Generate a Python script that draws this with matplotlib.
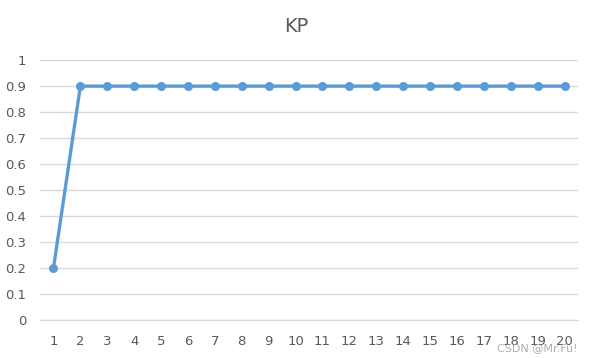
import numpy as np
import matplotlib.pyplot as plt

# data
categories = [str(i) for i in range(1, 21)]
kp_values = [0.2] + [0.9] * 19
y_ticks = [0, 0.1, 0.2, 0.3, 0.4, 0.5, 0.6, 0.7, 0.8, 0.9, 1]
y_labels = ["0", "0.1", "0.2", "0.3", "0.4", "0.5", "0.6", "0.7", "0.8", "0.9", "1"]

fig = plt.figure(figsize=(5.92, 3.58), dpi=100)
ax = fig.add_axes([0.0676, 0.106, 0.9088, 0.726])

x = np.arange(1, len(categories) + 1)
ax.plot(x, kp_values, color="#5B9BD5", linewidth=2.4, marker="o",
        markersize=5.5, zorder=3, solid_capstyle="round")

ax.set_xlim(0.5, len(categories) + 0.5)
ax.set_ylim(0, 1)
ax.set_xticks(x)
ax.set_xticklabels(categories)
ax.set_yticks(y_ticks)
ax.set_yticklabels(y_labels)

ax.grid(axis="y", color="#D9D9D9", linewidth=1)
ax.set_axisbelow(True)
for s in ["top", "right", "left"]:
    ax.spines[s].set_visible(False)
ax.spines["bottom"].set_color("#D9D9D9")
ax.tick_params(length=0, labelsize=9.5, colors="#595959")
ax.tick_params(axis="x", pad=11)
ax.tick_params(axis="y", pad=10)

fig.text(0.5, 0.925, "KP", ha="center", va="center", fontsize=14, color="#595959")
fig.text(0.975, 0.028, "CSDN @Mr.Fu!", ha="right", va="center", fontsize=8,
         color="#9a9a9a", alpha=0.8)

fig.savefig("out.png", dpi=100)
